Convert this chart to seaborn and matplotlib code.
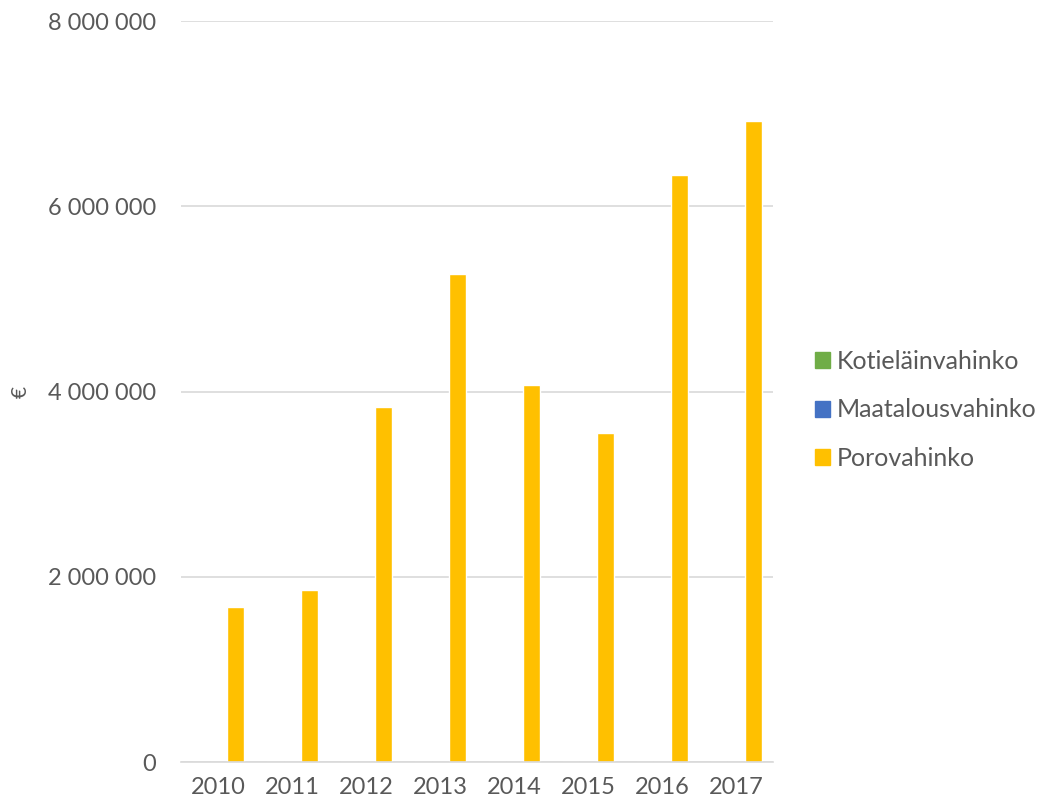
import pandas as pd
import matplotlib
matplotlib.use('Agg')
import matplotlib.pyplot as plt
import seaborn as sns
from matplotlib.ticker import FuncFormatter, MultipleLocator

years = ['2010', '2011', '2012', '2013', '2014', '2015', '2016', '2017']
series = ['Kotieläinvahinko', 'Maatalousvahinko', 'Porovahinko']
kotielain = [0, 0, 0, 0, 0, 0, 0, 0]
maatalous = [0, 0, 0, 0, 0, 0, 0, 0]
poro = [1675000, 1855000, 3830000, 5270000, 4070000, 3550000, 6340000, 6920000]
colors = ['#70ad47', '#4472c4', '#ffc000']


def main():
    df = pd.DataFrame({
        'year': years * 3,
        'type': [series[0]] * 8 + [series[1]] * 8 + [series[2]] * 8,
        'value': kotielain + maatalous + poro,
    })

    sns.set_style('white')
    plt.rcParams['font.family'] = ['Lato', 'DejaVu Sans']

    fig = plt.figure(figsize=(10.38, 8.08), dpi=100)
    ax = fig.add_axes([0.1744, 0.0569, 0.5703, 0.9171])

    sns.barplot(data=df, x='year', y='value', hue='type', hue_order=series,
                palette=colors, saturation=1, width=0.69, gap=0,
                errorbar=None, ax=ax, legend=False)

    ax.set_ylim(0, 8000000)
    ax.set_xlim(-0.5, 7.5)
    ax.yaxis.set_major_locator(MultipleLocator(2000000))
    ax.yaxis.set_major_formatter(FuncFormatter(lambda v, p: f'{int(v):,}'.replace(',', ' ')))
    ax.grid(axis='y', color='#d9d9d9', linewidth=1.2)
    ax.set_axisbelow(True)
    for s in ['top', 'right', 'left']:
        ax.spines[s].set_visible(False)
    ax.spines['bottom'].set_color('#d9d9d9')
    ax.spines['bottom'].set_linewidth(1.2)
    ax.tick_params(axis='both', length=0, labelsize=17, labelcolor='#595959')
    ax.tick_params(axis='y', pad=18)
    ax.tick_params(axis='x', pad=11)
    ax.set_xlabel('')
    ax.set_ylabel('€', fontsize=15, color='#595959', labelpad=12)

    handles = [plt.Rectangle((0, 0), 1, 1, color=c) for c in colors]
    fig.legend(handles, series, loc='center left', bbox_to_anchor=(0.785, 0.4926),
               frameon=False, fontsize=18, labelcolor='#595959',
               handlelength=0.6, handleheight=0.6, handletextpad=0.28,
               labelspacing=1.03, borderaxespad=0, borderpad=0)

    fig.savefig('out.png', dpi=100)


if __name__ == '__main__':
    main()
